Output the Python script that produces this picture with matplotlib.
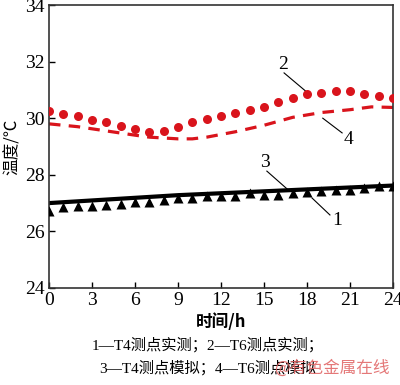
import matplotlib
matplotlib.use("Agg")
import matplotlib.pyplot as plt
import numpy as np

hours = list(range(25))
t6_measured = [30.25, 30.14, 30.07, 29.93, 29.86, 29.72, 29.61, 29.50, 29.54, 29.68, 29.86,
               29.96, 30.07, 30.20, 30.30, 30.40, 30.56, 30.70, 30.84, 30.90, 30.97, 30.97,
               30.84, 30.77, 30.70]
t6_sim_x = [0, 2, 4, 6, 7, 8, 9, 10, 11, 13, 15, 17, 19, 21, 22.5, 24]
t6_sim = [29.80, 29.70, 29.55, 29.40, 29.33, 29.30, 29.27, 29.27, 29.33, 29.52, 29.75, 30.03,
          30.20, 30.30, 30.40, 30.38]
t4_measured = [26.72, 26.86, 26.90, 26.90, 26.93, 26.97, 27.03, 27.03, 27.10, 27.17, 27.17,
               27.24, 27.24, 27.24, 27.34, 27.28, 27.30, 27.34, 27.38, 27.41, 27.48, 27.48,
               27.52, 27.62, 27.62]
t4_sim_x = [0, 9, 24]
t4_sim = [27.00, 27.28, 27.62]

xticks = [0, 3, 6, 9, 12, 15, 18, 21, 24]
yticks = [24, 26, 28, 30, 32, 34]

cjk = ['Noto Sans CJK SC', 'DejaVu Sans']
serif = ['Liberation Serif', 'Noto Sans CJK SC']

fig = plt.figure(figsize=(4.0, 3.85), dpi=100)
ax = fig.add_axes([0.1225, 0.252, 0.86, 0.735])
red = '#d9141c'

ax.plot(t6_sim_x, t6_sim, color=red, lw=2.3, dashes=(3.6, 2.6), zorder=2)
ax.plot(hours, t6_measured, 'o', color=red, ms=6.5, mec='none', zorder=3)
ax.plot(t4_sim_x, t4_sim, color='black', lw=3, zorder=2)
ax.plot(hours, t4_measured, '^', color='black', ms=6.5, mec='none', zorder=3)

ax.set_xlim(0, 24)
ax.set_ylim(24, 34)
ax.set_xticks(xticks)
ax.set_yticks(yticks)
ax.tick_params(direction='in', length=4, width=1, labelsize=14, pad=3)
for lab in ax.get_xticklabels() + ax.get_yticklabels():
    lab.set_family(serif)
for s in ax.spines.values():
    s.set_linewidth(1.2)
    s.set_color('#333333')

ax.set_xlabel('时间/h', family=cjk, fontsize=12, fontweight='bold', labelpad=3)
ax.set_ylabel('温度/℃', family=cjk, fontsize=12, labelpad=3)

def ann(text, xy, xytext, tpos):
    ax.plot([xy[0], xytext[0]], [xy[1], xytext[1]], color='black', lw=0.8)
    ax.text(tpos[0], tpos[1], text, family=serif, fontsize=14, ha='center', va='center')

ann('2', (17.9, 30.96), (16.4, 31.6), (16.3, 31.88))
ann('4', (19.1, 30.0), (20.45, 29.48), (20.9, 29.23))
ann('3', (16.7, 27.46), (15.2, 28.13), (15.1, 28.45))
ann('1', (18.35, 27.18), (19.6, 26.58), (20.1, 26.40))

fig.text(0.52, 0.105, '1—T4测点实测；2—T6测点实测；', family=['Liberation Serif', 'Noto Sans CJK SC'],
         fontsize=11, ha='center', va='center')
fig.text(0.52, 0.045, '3—T4测点模拟；4—T6测点模拟', family=['Liberation Serif', 'Noto Sans CJK SC'],
         fontsize=11, ha='center', va='center')
fig.text(0.975, 0.045, '@有色金属在线', family=cjk, fontsize=12, color='#e06060', alpha=0.85,
         ha='right', va='center')

fig.savefig('out.png', dpi=100)
